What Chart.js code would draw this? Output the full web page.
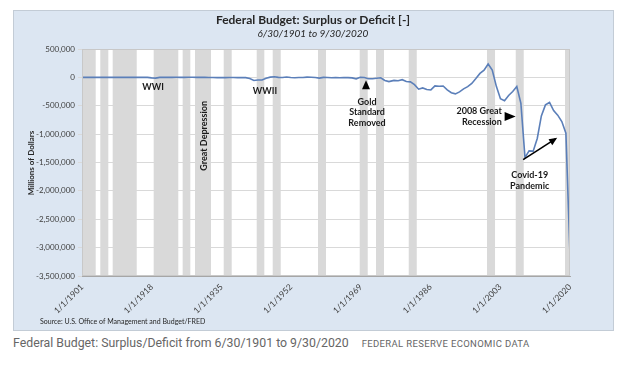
<!DOCTYPE html>
<html><head><meta charset="utf-8">
<script src="https://cdn.jsdelivr.net/npm/chart.js@4"></script>
<style>
html,body{margin:0;padding:0;background:#fff;width:624px;height:368px;overflow:hidden;font-family:Lato,sans-serif}
#panel{position:absolute;left:13px;top:10px;width:599px;height:319px;border:1px solid #c3ccd6;background:#dce6f2}
#c{position:absolute;left:0;top:0}
#cap{position:absolute;left:13px;top:336px;font-family:Roboto,'Open Sans',sans-serif;font-size:12.3px;color:#666;white-space:nowrap}
#cap span{font-size:9.5px;margin-left:13px;letter-spacing:0.35px}
</style></head>
<body>
<div id="panel"><canvas id="c" width="599" height="319"></canvas></div>
<div id="cap">Federal Budget: Surplus/Deficit from 6/30/1901 to 9/30/2020<span>FEDERAL RESERVE ECONOMIC DATA</span></div>
<script>
// Fiscal years
const years = [1901,1902,1903,1904,1905,1906,1907,1908,1909,1910,1911,1912,1913,1914,1915,1916,1917,1918,1919,1920,
1921,1922,1923,1924,1925,1926,1927,1928,1929,1930,1931,1932,1933,1934,1935,1936,1937,1938,1939,1940,
1941,1942,1943,1944,1945,1946,1947,1948,1949,1950,1951,1952,1953,1954,1955,1956,1957,1958,1959,1960,
1961,1962,1963,1964,1965,1966,1967,1968,1969,1970,1971,1972,1973,1974,1975,1976,1977,1978,1979,1980,
1981,1982,1983,1984,1985,1986,1987,1988,1989,1990,1991,1992,1993,1994,1995,1996,1997,1998,1999,2000,
2001,2002,2003,2004,2005,2006,2007,2008,2009,2010,2011,2012,2013,2014,2015,2016,2017,2018,2019,2020];
// Surplus (+) or deficit (-), millions of dollars
const surplus = [63,77,45,-43,-23,25,87,-57,-89,-18,11,3,0,0,-63,48,-853,-9032,-13363,291,
509,736,713,963,717,865,1155,939,734,738,-462,-2735,-2602,-3630,-2791,-4425,-2777,-1177,-3862,-2920,
-4941,-20503,-54554,-47557,-47553,-15936,4018,11796,580,-3119,6102,-1519,-6493,-1154,-2993,3947,3412,-2769,-12849,301,
-3335,-7146,-4756,-5915,-1411,-3698,-8643,-25161,3242,-2842,-23033,-23373,-14908,-6135,-53242,-73732,-53659,-59185,-40726,-73830,
-78968,-127977,-207802,-185367,-212308,-221227,-149730,-155178,-152639,-221036,-269238,-290321,-255051,-203186,-163952,-107431,-21884,69270,125610,236241,
128236,-157758,-377585,-412727,-318346,-248181,-160701,-458553,-1412688,-1294373,-1299593,-1076573,-679775,-484597,-441960,-584651,-665446,-779137,-983594,-3131917];
// Shaded periods (start, end) in decimal years
const bandStarts = [1901.57,1905.97,1909.0,1919.02,1926.1,1929.11,1936.13,1944.19,1948.1,1959.17,1969.36,1973.35,1981.34,2000.47,2007.49,2019.53];
const bandEnds   = [1904.85,1907.93,1914.87,1925.03,1927.97,1933.02,1938.08,1946.05,1950.06,1961.13,1971.32,1975.3,1983.3,2002.43,2009.44,2020.51];
const xTickLabels = ['1/1/1901','1/1/1918','1/1/1935','1/1/1952','1/1/1969','1/1/1986','1/1/2003','1/1/2020'];
const yTicks = [500000,0,-500000,-1000000,-1500000,-2000000,-2500000,-3000000,-3500000];

// fiscal year end: June 30 through 1976, Sept 30 from 1977
const fyEnd = y => y < 1977 ? y + 0.5 : y + 0.75;
const xMin = fyEnd(1901), xMax = fyEnd(2020);
const points = years.map((y,i)=>({x: fyEnd(y), y: surplus[i]}));

const annotations = [
  {type:'text', text:'WWI', x:1918.85, y:-177000},
  {type:'text', text:'WWII', x:1946.2, y:-235000},
  {type:'vtext', text:'Great Depression', x:1931.3, y:-1030000},
  {type:'text', text:'Gold', x:1971.15, y:-430000},
  {type:'text', text:'Standard', x:1971.15, y:-610000},
  {type:'text', text:'Removed', x:1971.15, y:-800000},
  {type:'rtext', text:'2008 Great', x:2004.1, y:-590000},
  {type:'rtext', text:'Recession', x:2004.1, y:-785000},
  {type:'text', text:'Covid-19', x:2010.9, y:-1720000},
  {type:'text', text:'Pandemic', x:2010.9, y:-1915000}
];

const F = "Lato, 'Liberation Sans', sans-serif";
const deco = {
  id:'deco',
  beforeDraw(chart){
    const {ctx, chartArea:a, scales:{x,y}} = chart;
    ctx.save();
    ctx.fillStyle = '#ffffff';
    ctx.fillRect(a.left, a.top, a.right-a.left, a.bottom-a.top);
    ctx.fillStyle = '#d9d9d9';
    bandStarts.forEach((s,i)=>{
      const l = x.getPixelForValue(s), r = x.getPixelForValue(bandEnds[i]);
      ctx.fillRect(l, a.top, r-l, a.bottom-a.top);
    });
    ctx.restore();
  },
  afterDraw(chart){
    const {ctx, chartArea:a, scales:{x,y}} = chart;
    ctx.save();
    // titles
    ctx.fillStyle = '#262626';
    ctx.textAlign = 'center'; ctx.textBaseline = 'middle';
    ctx.font = 'bold 12px ' + F;
    ctx.fillText('Federal Budget: Surplus or Deficit [-]', 299, 9);
    ctx.font = 'italic 10px ' + F;
    ctx.fillText('6/30/1901 to 9/30/2020', 299, 23);
    // y axis title
    ctx.save();
    ctx.translate(17, 152); ctx.rotate(-Math.PI/2);
    ctx.font = 'bold 8px ' + F;
    ctx.fillText('Millions of Dollars', 0, 0);
    ctx.restore();
    // source
    ctx.textAlign = 'left';
    ctx.font = '7px ' + F;
    ctx.fillText('Source: U.S. Office of Management and Budget/FRED', 26, 311);
    // annotations
    ctx.fillStyle = '#1a1a1a';
    ctx.font = 'bold 9px ' + F;
    annotations.forEach(an=>{
      const px = x.getPixelForValue(an.x), py = y.getPixelForValue(an.y);
      if (an.type==='vtext'){
        ctx.save(); ctx.translate(px,py); ctx.rotate(-Math.PI/2);
        ctx.textAlign='center'; ctx.fillText(an.text,0,0); ctx.restore();
      } else {
        ctx.textAlign = an.type==='rtext' ? 'right' : 'center';
        ctx.fillText(an.text, px, py);
      }
    });
    // gold standard triangle (up)
    let tx = x.getPixelForValue(1970.9), ty = y.getPixelForValue(-140000);
    ctx.fillStyle = '#000';
    ctx.beginPath(); ctx.moveTo(tx, ty-5); ctx.lineTo(tx+4, ty+4); ctx.lineTo(tx-4, ty+4); ctx.closePath(); ctx.fill();
    // recession triangle (right)
    tx = x.getPixelForValue(2006.0); ty = y.getPixelForValue(-690000);
    ctx.beginPath(); ctx.moveTo(tx+6, ty); ctx.lineTo(tx-5, ty-4.5); ctx.lineTo(tx-5, ty+4.5); ctx.closePath(); ctx.fill();
    // covid arrow
    const x1 = x.getPixelForValue(2009.3), y1 = y.getPixelForValue(-1450000);
    const x2 = x.getPixelForValue(2017.2), y2 = y.getPixelForValue(-1085000);
    ctx.strokeStyle = '#000'; ctx.lineWidth = 1.6;
    ctx.beginPath(); ctx.moveTo(x1,y1); ctx.lineTo(x2,y2); ctx.stroke();
    const ang = Math.atan2(y2-y1, x2-x1);
    ctx.beginPath();
    ctx.moveTo(x2+2*Math.cos(ang), y2+2*Math.sin(ang));
    ctx.lineTo(x2-6*Math.cos(ang)+3.5*Math.sin(ang), y2-6*Math.sin(ang)-3.5*Math.cos(ang));
    ctx.lineTo(x2-6*Math.cos(ang)-3.5*Math.sin(ang), y2-6*Math.sin(ang)+3.5*Math.cos(ang));
    ctx.closePath(); ctx.fill();
    // plot border
    ctx.strokeStyle = '#c8c8c8'; ctx.lineWidth = 1;
    ctx.strokeRect(a.left+0.5, a.top+0.5, a.right-a.left-1, a.bottom-a.top-1);
    ctx.restore();
  }
};

new Chart(document.getElementById('c'), {
  type:'line',
  data:{datasets:[{data:points, borderColor:'#5b7fb9', borderWidth:1.6, pointRadius:0, tension:0, fill:false}]},
  options:{
    responsive:false, animation:false,
    layout:{padding:{top:38, right:43, bottom:14, left:0}},
    plugins:{legend:{display:false}, tooltip:{enabled:false}},
    scales:{
      x:{type:'linear', min:xMin, max:xMax,
        afterBuildTicks(s){ s.ticks = xTickLabels.map((l,i)=>({value: xMin + i*(xMax-xMin)/(xTickLabels.length-1)})); },
        afterFit(s){ s.height = 40; },
        grid:{display:false, drawTicks:true, tickLength:4},
        border:{color:'#a6a6a6'},
        ticks:{minRotation:45, maxRotation:45, padding:2, color:'#404040', font:{family:F, size:8.5},
          callback:(v,i)=>xTickLabels[i]}
      },
      y:{min:-3500000, max:500000,
        afterBuildTicks(s){ s.ticks = yTicks.map(v=>({value:v})); },
        afterFit(s){ s.width = 68; },
        grid:{color:'#d9d9d9', tickLength:4},
        border:{color:'#a6a6a6'},
        ticks:{padding:3, color:'#404040', font:{family:F, size:8},
          callback:v=>v.toLocaleString('en-US')}
      }
    }
  },
  plugins:[deco]
});
</script>
</body></html>
